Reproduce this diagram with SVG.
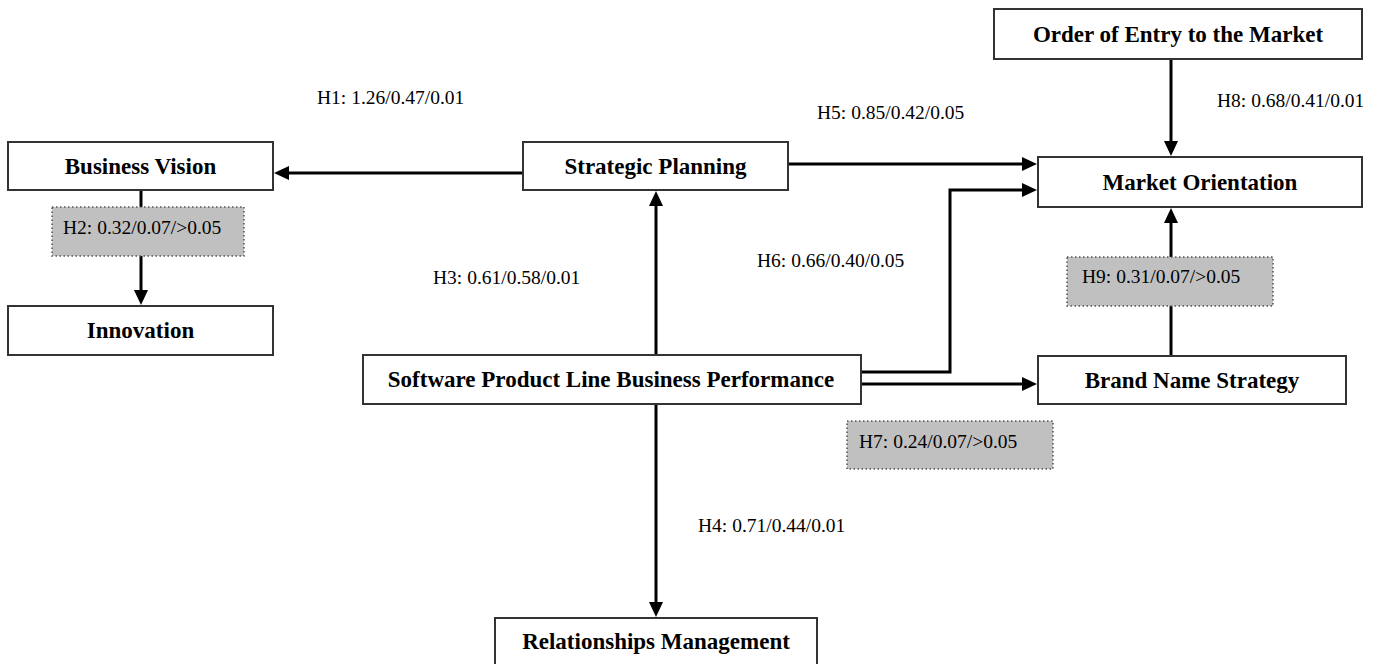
<svg xmlns="http://www.w3.org/2000/svg" width="1380" height="664" viewBox="0 0 1380 664">
<defs>
<marker id="arr" markerUnits="userSpaceOnUse" markerWidth="16" markerHeight="15" refX="8" refY="7" orient="auto">
<path d="M0,0 L15,7 L0,14 z" fill="#000"/>
</marker>
</defs>
<style>
.box{fill:#fff;stroke:#333;stroke-width:2}
.gbox{fill:#c0c0c0;stroke:#555;stroke-width:1.5;stroke-dasharray:1.5 2.5}
.lbl{font-family:"Liberation Serif","Times New Roman",serif;font-weight:bold;font-size:23px;fill:#000;text-anchor:middle}
.h{font-family:"Liberation Serif","Times New Roman",serif;font-size:19.5px;fill:#000}
.c{fill:none;stroke:#000;stroke-width:3}
</style>
<rect width="1380" height="664" fill="#fff"/>
<g id="connectors">
<path class="c" d="M523,173 H281" marker-end="url(#arr)"/>
<path class="c" d="M788,164 H1030" marker-end="url(#arr)"/>
<path class="c" d="M861,372 H950 V190 H1030" marker-end="url(#arr)"/>
<path class="c" d="M861,384 H1030" marker-end="url(#arr)"/>
<path class="c" d="M656,355 V198" marker-end="url(#arr)"/>
<path class="c" d="M656,404 V610" marker-end="url(#arr)"/>
<path class="c" d="M141,190 V298" marker-end="url(#arr)"/>
<path class="c" d="M1171,59 V149" marker-end="url(#arr)"/>
<path class="c" d="M1171,356 V215" marker-end="url(#arr)"/>
</g>
<g id="business-vision"><rect class="box" x="8" y="142" width="265" height="48"/><text class="lbl" x="140.5" y="173.5">Business Vision</text></g>
<g id="strategic-planning"><rect class="box" x="523" y="142" width="265" height="48"/><text class="lbl" x="655.5" y="173.5">Strategic Planning</text></g>
<g id="order-of-entry"><rect class="box" x="994" y="9" width="368" height="50"/><text class="lbl" x="1178" y="41.5">Order of Entry to the Market</text></g>
<g id="market-orientation"><rect class="box" x="1038" y="157" width="324" height="50"/><text class="lbl" x="1200" y="189.5">Market Orientation</text></g>
<g id="innovation"><rect class="box" x="8" y="306" width="265" height="49"/><text class="lbl" x="140.5" y="338">Innovation</text></g>
<g id="splbp"><rect class="box" x="363" y="355" width="498" height="49"/><text class="lbl" x="611" y="387">Software Product Line Business Performance</text></g>
<g id="brand-name-strategy"><rect class="box" x="1038" y="356" width="308" height="48"/><text class="lbl" x="1192" y="387.5">Brand Name Strategy</text></g>
<g id="relationships-management"><rect class="box" x="495" y="618" width="322" height="52"/><text class="lbl" x="656" y="649">Relationships Management</text></g>
<g id="labels">
<text class="h" x="317" y="104">H1: 1.26/0.47/0.01</text>
<text class="h" x="817" y="119">H5: 0.85/0.42/0.05</text>
<text class="h" x="1217" y="107">H8: 0.68/0.41/0.01</text>
<text class="h" x="433" y="284">H3: 0.61/0.58/0.01</text>
<text class="h" x="757" y="267">H6: 0.66/0.40/0.05</text>
<text class="h" x="698" y="532">H4: 0.71/0.44/0.01</text>
</g>
<g id="h2"><rect class="gbox" x="52" y="207" width="192" height="49"/><text class="h" x="63" y="234">H2: 0.32/0.07/&gt;0.05</text></g>
<g id="h9"><rect class="gbox" x="1067" y="257" width="206" height="49"/><text class="h" x="1082" y="283">H9: 0.31/0.07/&gt;0.05</text></g>
<g id="h7"><rect class="gbox" x="847" y="421" width="206" height="48"/><text class="h" x="859" y="448">H7: 0.24/0.07/&gt;0.05</text></g>
</svg>
